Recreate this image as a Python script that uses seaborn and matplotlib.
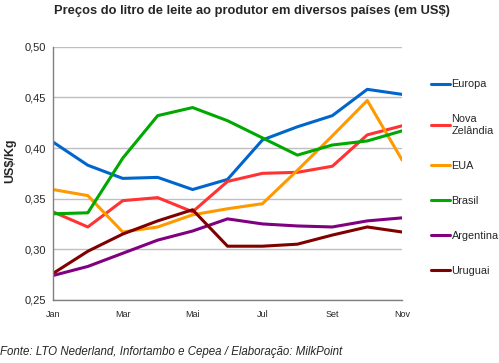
import pandas as pd
import matplotlib.pyplot as plt
import seaborn as sns

meses = ["Jan", "Fev", "Mar", "Abr", "Mai", "Jun", "Jul", "Ago", "Set", "Out", "Nov"]
europa = [0.406, 0.383, 0.370, 0.371, 0.359, 0.369, 0.408, 0.421, 0.432, 0.458, 0.453]
nova_zelandia = [0.337, 0.322, 0.348, 0.351, 0.337, 0.367, 0.375, 0.376, 0.382, 0.413, 0.422]
eua = [0.359, 0.353, 0.317, 0.322, 0.334, 0.340, 0.345, 0.378, 0.412, 0.447, 0.388]
brasil = [0.335, 0.336, 0.390, 0.432, 0.440, 0.427, 0.410, 0.393, 0.403, 0.407, 0.417]
argentina = [0.274, 0.283, 0.296, 0.309, 0.318, 0.330, 0.325, 0.323, 0.322, 0.328, 0.331]
uruguai = [0.276, 0.298, 0.315, 0.328, 0.339, 0.303, 0.303, 0.305, 0.314, 0.322, 0.317]

paises = ["Europa", "Nova\nZelândia", "EUA", "Brasil", "Argentina", "Uruguai"]
cores = ["#0066CC", "#FF3333", "#FF9900", "#00A800", "#800080", "#800000"]

series = [europa, nova_zelandia, eua, brasil, argentina, uruguai]
df = pd.concat([pd.DataFrame({"mes": range(len(meses)), "valor": v, "pais": p})
                for p, v in zip(paises, series)])

sns.set_style("white")
plt.rcParams['font.family'] = ['Liberation Sans', 'DejaVu Sans']

fig = plt.figure(figsize=(4.99, 3.63), dpi=100)
ax = fig.add_axes([0.106, 0.174, 0.700, 0.697])

sns.lineplot(data=df, x="mes", y="valor", hue="pais", palette=cores,
             linewidth=2.2, ax=ax)

ax.set_xlim(0, 10)
ax.set_ylim(0.25, 0.50)
ax.set_yticks([0.25, 0.30, 0.35, 0.40, 0.45, 0.50])
ax.set_yticklabels([f"{v:.2f}".replace(".", ",") for v in ax.get_yticks()], fontsize=8)
ax.set_xticks(range(len(meses)))
ax.set_xticklabels([m if i % 2 == 0 else "" for i, m in enumerate(meses)], fontsize=6.5)
ax.tick_params(axis="both", direction="out", length=3, color="#808080", width=1, pad=4)
ax.tick_params(axis="y", pad=2)
ax.grid(axis="y", color="#BFBFBF", linewidth=1)
for s in ["top", "right"]:
    ax.spines[s].set_visible(False)
for s in ["left", "bottom"]:
    ax.spines[s].set_color("#808080")
    ax.spines[s].set_linewidth(1)

ax.set_xlabel("")
ax.set_ylabel("US$/Kg", fontsize=9, fontweight="bold")
ax.yaxis.set_label_coords(-0.105, 0.55)

ax.legend(loc="upper left", bbox_to_anchor=(1.07, 0.888), frameon=False,
          fontsize=7.8, handlelength=1.8, handletextpad=0.1, labelspacing=2.3,
          borderaxespad=0)

fig.suptitle("Preços do litro de leite ao produtor em diversos países (em US$)",
             x=0.505, y=0.985, fontsize=9.3, fontweight="bold")
fig.text(0.0, 0.022, "Fonte: LTO Nederland, Infortambo e Cepea / Elaboração: MilkPoint",
         fontsize=8.3, style="italic")

fig.savefig("out.png", dpi=100)
